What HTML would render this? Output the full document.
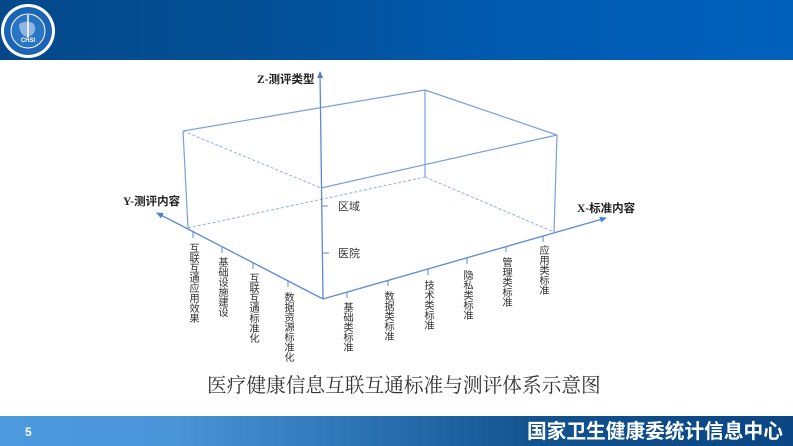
<!DOCTYPE html>
<html><head><meta charset="utf-8">
<style>
html,body{margin:0;padding:0;}
body{width:793px;height:446px;position:relative;overflow:hidden;background:#fff;font-family:"Liberation Sans","Noto Sans CJK SC",sans-serif;}
.hdr{position:absolute;left:0;top:0;width:793px;height:60px;background:linear-gradient(90deg,#03498a 0%,#044f95 30%,#0059ad 60%,#0061bd 100%);}
.ftr{position:absolute;left:0;top:416px;width:793px;height:30px;background:linear-gradient(90deg,#4d9ade 0%,#4a94d8 22%,#2d74b5 45%,#12528f 68%,#0a4683 100%);}
.vt{position:absolute;writing-mode:vertical-rl;text-orientation:upright;font-size:10.3px;line-height:11px;color:#333;font-family:"Liberation Sans","Noto Sans CJK SC",sans-serif;white-space:nowrap;letter-spacing:-0.3px;}
.cap{position:absolute;left:207px;top:372px;font-size:19.7px;line-height:28px;color:#333;font-family:"Liberation Serif","Noto Serif CJK SC",serif;white-space:nowrap;}
.ft{position:absolute;left:527px;top:418px;font-size:19.7px;line-height:28px;color:#fff;font-weight:bold;font-family:"Liberation Sans","Noto Sans CJK SC",sans-serif;white-space:nowrap;}
.pn{position:absolute;left:25px;top:424px;font-size:12px;line-height:16px;color:#fff;font-weight:bold;}
</style></head>
<body>
<div class="hdr"></div>
<svg style="position:absolute;left:0;top:0" width="70" height="62">
  <circle cx="28" cy="31" r="27" fill="#ffffff"/>
  <circle cx="28" cy="31" r="24" fill="#1b63b4"/>
  <circle cx="28" cy="31" r="17" fill="#2a74c4" stroke="#ffffff" stroke-width="1"/>
  <path d="M19 24 Q26 20 33 23 Q37 28 34 33 Q30 38 24 36 Q19 32 19 24 Z" fill="#8fb4e0"/>
  <line x1="28" y1="15" x2="28" y2="38" stroke="#fff" stroke-width="1.5"/>
  <text x="28" y="42" font-size="6" font-weight="bold" fill="#fff" text-anchor="middle" font-family="Liberation Sans">CHSI</text>
</svg>

<svg style="position:absolute;left:0;top:0" width="793" height="446">
  <defs>
    <marker id="ar" markerWidth="8" markerHeight="8" refX="6" refY="3" orient="auto" markerUnits="userSpaceOnUse">
      <path d="M0,0 L7,3 L0,6 Z" fill="#4a7fd4"/>
    </marker>
  </defs>
  <g stroke="#7a9fdc" stroke-width="1.2" fill="none">
    <line x1="183" y1="131" x2="425" y2="90"/>
    <line x1="425" y1="90" x2="557" y2="135"/>
    <line x1="183" y1="131" x2="188" y2="228"/>
    <line x1="425" y1="90" x2="425" y2="177"/>
    <line x1="557" y1="135" x2="554" y2="232"/>
    <line x1="321" y1="188" x2="557" y2="135"/>
  </g>
  <g stroke="#8fb0e4" stroke-width="1" fill="none" stroke-dasharray="3,2">
    <line x1="183" y1="131" x2="321" y2="188"/>
    <line x1="188" y1="228" x2="425" y2="177"/>
    <line x1="425" y1="177" x2="554" y2="232"/>
  </g>
  <g stroke="#5b89d6" stroke-width="1.3" fill="none">
    <line x1="323" y1="299" x2="320" y2="72" marker-end="url(#ar)"/>
    <line x1="323" y1="299" x2="157" y2="213" marker-end="url(#ar)"/>
    <line x1="323" y1="299" x2="606" y2="218" marker-end="url(#ar)"/>
  </g>
  <g stroke="#5b89d6" stroke-width="1" fill="none">
    <line x1="322" y1="206" x2="328" y2="206"/>
    <line x1="323" y1="253" x2="329" y2="253"/>
    <line x1="193" y1="232" x2="193" y2="238"/>
    <line x1="222" y1="247" x2="222" y2="253"/>
    <line x1="253" y1="263" x2="253" y2="269"/>
    <line x1="288" y1="281" x2="288" y2="287"/>
    <line x1="347" y1="292" x2="347" y2="298"/>
    <line x1="388" y1="280" x2="388" y2="286"/>
    <line x1="428" y1="269" x2="428" y2="275"/>
    <line x1="467" y1="258" x2="467" y2="264"/>
    <line x1="506" y1="246" x2="506" y2="252"/>
    <line x1="543" y1="236" x2="543" y2="242"/>
  </g>
  <g font-family="Liberation Serif,Noto Sans CJK SC,serif" font-weight="bold" font-size="11.5" fill="#222">
    <text x="257" y="83">Z-测评类型</text>
    <text x="123" y="205">Y-测评内容</text>
    <text x="577" y="212">X-标准内容</text>
  </g>
  <g font-family="Liberation Sans,Noto Sans CJK SC,sans-serif" font-size="11" fill="#333">
    <text x="338" y="210">区域</text>
    <text x="338" y="257">医院</text>
  </g>
</svg>

<div class="vt" style="left:187px;top:243px;">互联互通应用效果</div>
<div class="vt" style="left:216px;top:257px;">基础设施建设</div>
<div class="vt" style="left:247px;top:273px;">互联互通标准化</div>
<div class="vt" style="left:282px;top:292px;">数据资源标准化</div>

<div class="vt" style="left:341px;top:302px;">基础类标准</div>
<div class="vt" style="left:382px;top:291px;">数据类标准</div>
<div class="vt" style="left:422px;top:280px;">技术类标准</div>
<div class="vt" style="left:461px;top:270px;">隐私类标准</div>
<div class="vt" style="left:500px;top:257px;">管理类标准</div>
<div class="vt" style="left:537px;top:245px;">应用类标准</div>

<div class="cap">医疗健康信息互联互通标准与测评体系示意图</div>

<div class="ftr"></div>
<div class="pn">5</div>
<div class="ft">国家卫生健康委统计信息中心</div>
</body></html>
